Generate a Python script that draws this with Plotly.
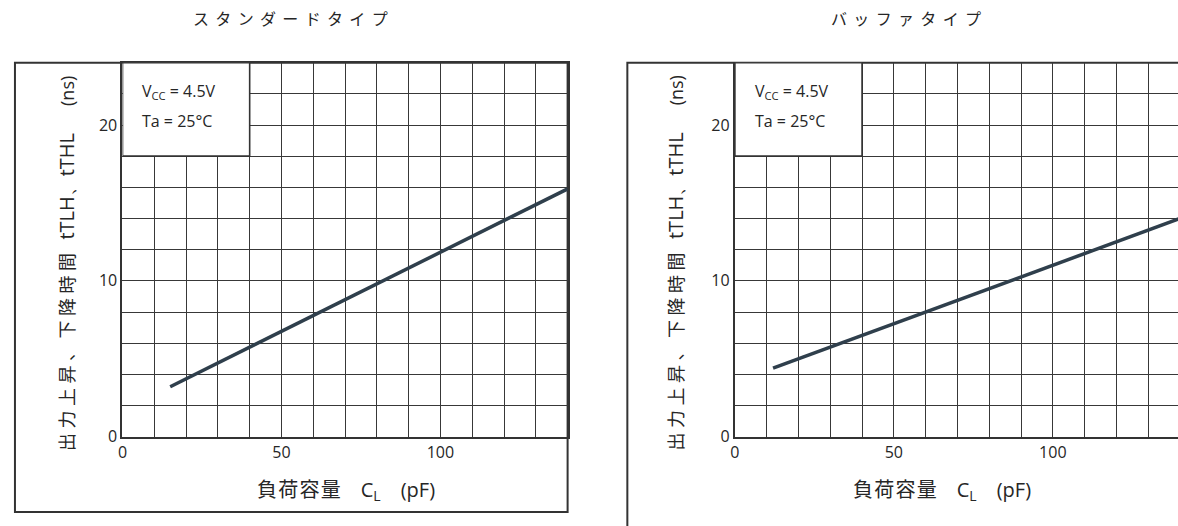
import plotly.graph_objects as go

W, H = 1178, 526

# ---- data ----
cl_standard = [15, 140]          # load capacitance (pF)
t_standard = [3.2, 15.9]         # tTLH/tTHL (ns)
cl_buffer = [12, 140]
t_buffer = [4.4, 14.0]

x_ticks = [0, 50, 100]
y_ticks = [0, 10, 20]
titles = ["スタンダードタイプ", "バッファタイプ"]
cond_lines = ["V<sub>CC</sub> = 4.5V", "Ta = 25°C"]
x_title_parts = ["負荷容量", "C<sub>L</sub>", "(pF)"]
y_title_parts = ["出力上昇、下降時間", "tTLH、tTHL", "(ns)"]

GRID = "#383838"
LINE = "#2f3f4c"
TXT = "#262626"
LAT = "Open Sans, Noto Sans CJK JP, sans-serif"
CJK = "Noto Sans CJK JP, sans-serif"


def spaced(s, sp):
    return sp.join(list(s))


title_texts = [spaced(t, "\u2004\u200a") for t in titles]
x_title = (spaced(x_title_parts[0], "\u200a") + "\u3000"
           + '<span style="font-family:Open Sans">' + x_title_parts[1] + "</span>\u3000"
           + '<span style="font-family:Open Sans">' + x_title_parts[2] + "</span>")
y_title = (spaced(y_title_parts[0], "\u2005") + "\u2002\u2005"
           + '<span style="font-family:Open Sans;font-size:20px">' + y_title_parts[1] + "</span>"
           + "\u3000\u2002"
           + '<span style="font-family:Open Sans;font-size:18px">' + y_title_parts[2] + "</span>")


def px(x):
    return x / W


def py(y):
    return 1 - y / H


fig = go.Figure()
fig.add_trace(go.Scatter(x=cl_standard, y=t_standard, mode="lines",
                         line=dict(color=LINE, width=3.5), xaxis="x", yaxis="y",
                         showlegend=False, hoverinfo="skip"))
fig.add_trace(go.Scatter(x=cl_buffer, y=t_buffer, mode="lines",
                         line=dict(color=LINE, width=3.5), xaxis="x2", yaxis="y2",
                         showlegend=False, hoverinfo="skip"))

plot_top, plot_bot = 64, 446
domains = [(118, 565), (733, W)]
ppu = (565 - 118) / 140.0
xranges = [[0, 140], [0, (W - 733) / ppu]]


def xaxis(i):
    d = domains[i]
    return dict(domain=[px(d[0]), px(d[1])], range=xranges[i], tickvals=x_ticks,
                showgrid=True, gridcolor=GRID, gridwidth=1.4,
                minor=dict(dtick=10, tick0=0, showgrid=True, gridcolor=GRID, gridwidth=1.4),
                showline=True, linecolor="#333", linewidth=2.2, mirror=(i == 0),
                zeroline=False, ticks="", fixedrange=True,
                tickfont=dict(family=LAT, size=16, color=TXT),
                anchor="y" if i == 0 else "y2")


def yaxis(i):
    return dict(domain=[py(plot_bot), py(plot_top)], range=[0, 24], tickvals=y_ticks,
                showgrid=True, gridcolor=GRID, gridwidth=1.4,
                minor=dict(dtick=2, tick0=0, showgrid=True, gridcolor=GRID, gridwidth=1.4),
                showline=True, linecolor="#333", linewidth=2.2, mirror=(i == 0),
                zeroline=False, ticks="", fixedrange=True,
                tickfont=dict(family=LAT, size=16, color=TXT),
                anchor="x" if i == 0 else "x2")


shapes = []
annotations = []
frames = [(10, 565, 523), (625, W + 20, 560)]
title_x = [287, 905]
ytitle_x = [62, 673]
xtitle_x = [342, 941]
cond_x = [136, 751]
for i in range(2):
    xr = "x" if i == 0 else "x2"
    yr = "y" if i == 0 else "y2"
    # white condition box covering grid
    shapes.append(dict(type="rect", xref=xr, yref=yr, x0=0, x1=40, y0=18, y1=24,
                       fillcolor="white", line=dict(color="#333", width=1.6), layer="above"))
    # outer frame
    f = frames[i]
    shapes.append(dict(type="rect", xref="paper", yref="paper",
                       x0=px(f[0]), x1=px(f[1]), y0=py(f[2]), y1=py(plot_top),
                       line=dict(color="#333", width=2), fillcolor="rgba(0,0,0,0)",
                       layer="below"))
    annotations.append(dict(text=title_texts[i], x=px(title_x[i]), y=py(18), xref="paper", yref="paper",
                            xanchor="center", yanchor="middle",
                            showarrow=False, font=dict(family=CJK, size=16, color=TXT)))
    annotations.append(dict(text=y_title, x=px(ytitle_x[i]), y=py(269), xref="paper", yref="paper",
                            xanchor="center", yanchor="middle",
                            textangle=-90, showarrow=False,
                            font=dict(family=CJK, size=18, color=TXT)))
    annotations.append(dict(text=x_title, x=px(xtitle_x[i]), y=py(500), xref="paper", yref="paper",
                            xanchor="center", yanchor="middle",
                            showarrow=False, font=dict(family=CJK, size=20, color=TXT)))
    for j, t in enumerate(cond_lines):
        annotations.append(dict(text=t, x=px(cond_x[i]), y=py(93 + 31 * j), xref="paper", yref="paper",
                                xanchor="left", yanchor="middle", showarrow=False,
                                font=dict(family=LAT, size=16, color=TXT)))

fig.update_layout(
    width=W, height=H, margin=dict(l=0, r=0, t=0, b=0),
    paper_bgcolor="white", plot_bgcolor="white",
    xaxis=xaxis(0), yaxis=yaxis(0), xaxis2=xaxis(1), yaxis2=yaxis(1),
    shapes=shapes, annotations=annotations, showlegend=False,
)

fig.write_html("out.html", config={"displayModeBar": False},
               post_script="document.body.style.margin='0';document.body.style.overflow='hidden';")
